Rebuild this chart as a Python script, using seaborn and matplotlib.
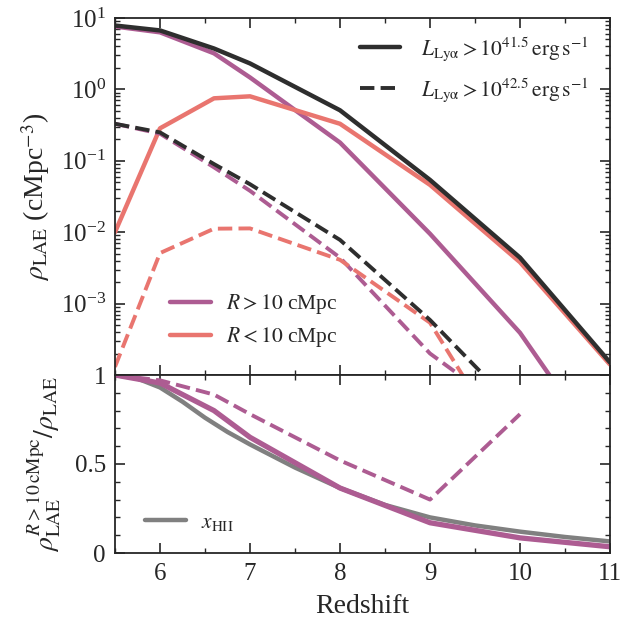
import numpy as np
import pandas as pd
import matplotlib
matplotlib.use("Agg")
import matplotlib.pyplot as plt
import seaborn as sns
from matplotlib.ticker import LogLocator, MultipleLocator, NullFormatter
from matplotlib.lines import Line2D

# ---------------- data ----------------
z = [5.5, 6.0, 6.6, 7.0, 8.0, 9.0, 10.0, 11.0]
# L > 10^41.5
tot_41 = [7.85, 6.7, 3.74, 2.31, 0.51, 0.054, 0.0044, 1.5e-4]
out_41 = [7.6, 6.3, 3.2, 1.47, 0.18, 0.0095, 3.9e-4, 6e-6]      # R > 10 cMpc
in_41 = [0.0100, 0.285, 0.75, 0.80, 0.33, 0.046, 0.0038, 1.4e-4]  # R < 10 cMpc
# L > 10^42.5
tot_42 = [0.33, 0.25, 0.09, 0.047, 0.0078, 5.9e-4, 3e-5, 1e-6]
out_42 = [0.33, 0.24, 0.081, 0.038, 0.0044, 2.0e-4, 2.4e-5, 8e-7]
in_42 = [1.3e-4, 0.0051, 0.0112, 0.0113, 0.0041, 5.4e-4, 5e-6, 1e-7]

# ratio panel
ratio_41 = [1.0, 0.955, 0.80, 0.65, 0.365, 0.17, 0.085, 0.035]
z_ratio42 = [5.5, 6.0, 6.6, 7.0, 8.0, 9.0, 10.0]
ratio_42 = [1.0, 0.97, 0.89, 0.78, 0.52, 0.30, 0.78]
z_hii = [5.5, 5.75, 6.0, 6.25, 6.5, 6.75, 7.0, 7.5, 8.0, 8.5, 9.0, 9.5, 10.0, 10.5, 11.0]
x_hii = [1.0, 0.98, 0.93, 0.85, 0.76, 0.68, 0.61, 0.48, 0.365, 0.27, 0.20, 0.155, 0.12, 0.09, 0.065]

leg_41 = r"$L_{\rm Ly\alpha} > 10^{41.5}\,{\rm erg\,s^{-1}}$"
leg_42 = r"$L_{\rm Ly\alpha} > 10^{42.5}\,{\rm erg\,s^{-1}}$"
leg_out = r"$R > 10$ cMpc"
leg_in = r"$R < 10$ cMpc"

# ---------------- style ----------------
sns.set_style("ticks")
plt.rcParams["font.family"] = ["Liberation Serif", "DejaVu Serif"]
plt.rcParams["mathtext.fontset"] = "stix"
plt.rcParams["xtick.direction"] = "in"
plt.rcParams["ytick.direction"] = "in"
plt.rcParams["axes.linewidth"] = 1.3

c_black = "#2e2e2e"
c_purple = "#ad5c92"
c_pink = "#e9756f"
c_gray = "#808080"
lw = 3.2
TICK = 18
LAB = 20
LEG = 15.5

fig = plt.figure(figsize=(6.23, 6.19), dpi=100)
L, R = 115 / 623, 610 / 623
ax1 = fig.add_axes([L, 1 - 375 / 619, R - L, 357 / 619])
ax2 = fig.add_axes([L, 1 - 553 / 619, R - L, 178 / 619], sharex=ax1)

df = pd.DataFrame({"z": z, "tot41": tot_41, "out41": out_41, "in41": in_41,
                   "tot42": tot_42, "out42": out_42, "in42": in_42, "r41": ratio_41})

sns.lineplot(data=df, x="z", y="out41", ax=ax1, color=c_purple, lw=lw, label=leg_out)
sns.lineplot(data=df, x="z", y="in41", ax=ax1, color=c_pink, lw=lw, label=leg_in)
sns.lineplot(data=df, x="z", y="out42", ax=ax1, color=c_purple, lw=lw - 0.4, ls="--")
sns.lineplot(data=df, x="z", y="in42", ax=ax1, color=c_pink, lw=lw - 0.4, ls="--")
sns.lineplot(data=df, x="z", y="tot41", ax=ax1, color=c_black, lw=lw)
sns.lineplot(data=df, x="z", y="tot42", ax=ax1, color=c_black, lw=lw - 0.4, ls="--")

ax1.set_yscale("log")
ax1.set_ylim(1e-4, 10)
ax1.set_xlim(5.5, 11)
ax1.set_yticks([1e-3, 1e-2, 1e-1, 1e0, 1e1])
ax1.yaxis.set_minor_locator(LogLocator(base=10, subs=np.arange(2, 10), numticks=20))
ax1.yaxis.set_minor_formatter(NullFormatter())
ax1.set_xlabel("")
ax1.set_ylabel(r"$\rho_{\rm LAE}$ (cMpc$^{-3}$)", fontsize=LAB)
ax1.yaxis.set_label_coords(-0.127, 0.5)
ax1.tick_params(axis="x", labelbottom=False)
ax1.tick_params(which="both", top=True, right=True, labelsize=TICK)
ax1.tick_params(which="major", length=7, width=1.2)
ax1.tick_params(which="minor", length=3.5, width=1.0)
ax1.tick_params(axis="y", pad=6.5)

# lower-left legend for regions
h, lab = ax1.get_legend_handles_labels()
leg1 = ax1.legend(h[:2], lab[:2], loc="center left", bbox_to_anchor=(0.111, 0.152),
                  frameon=False, fontsize=LEG, borderpad=0, borderaxespad=0,
                  labelspacing=0.4, handlelength=1.9, handletextpad=0.7)
ax1.add_artist(leg1)
hl = [Line2D([], [], color=c_black, lw=lw), Line2D([], [], color=c_black, lw=lw - 0.4, ls="--")]
ax1.legend(hl, [leg_41, leg_42], loc="center right", bbox_to_anchor=(0.958, 0.857),
           frameon=False, fontsize=LEG, borderpad=0, borderaxespad=0,
           labelspacing=0.6, handlelength=1.86, handletextpad=1.0)

# ---------------- ratio panel ----------------
df_h = pd.DataFrame({"z": z_hii, "x": x_hii})
df_r42 = pd.DataFrame({"z": z_ratio42, "r": ratio_42})
sns.lineplot(data=df_h, x="z", y="x", ax=ax2, color=c_gray, lw=lw, label=r"$x_{\rm HII}$")
sns.lineplot(data=df, x="z", y="r41", ax=ax2, color=c_purple, lw=lw + 0.6)
sns.lineplot(data=df_r42, x="z", y="r", ax=ax2, color=c_purple, lw=lw - 0.4, ls="--")
ax2.set_ylim(0, 1)
ax2.set_xlim(5.5, 11)
ax2.set_yticks([0, 0.5, 1])
ax2.set_yticklabels(["0", "0.5", "1"])
ax2.yaxis.set_minor_locator(MultipleLocator(0.1))
ax2.xaxis.set_major_locator(MultipleLocator(1))
ax2.xaxis.set_minor_locator(MultipleLocator(0.5))
ax2.set_xlabel("Redshift", fontsize=LAB, labelpad=6)
ax2.set_ylabel(r"$\rho_{\rm LAE}^{R>10\,{\rm cMpc}}/\rho_{\rm LAE}$", fontsize=LAB)
ax2.yaxis.set_label_coords(-0.105, 0.5)
ax2.tick_params(which="both", top=True, right=True, labelsize=TICK)
ax2.tick_params(which="major", length=7, width=1.2)
ax2.tick_params(which="minor", length=3.5, width=1.0)
ax2.tick_params(axis="x", pad=7.5)
ax2.tick_params(axis="y", pad=6.5)
ax2.legend(loc="center left", bbox_to_anchor=(0.06, 0.169), frameon=False, fontsize=LEG,
           borderpad=0, borderaxespad=0, handlelength=1.9, handletextpad=0.7)

fig.savefig("out.png", dpi=100)
